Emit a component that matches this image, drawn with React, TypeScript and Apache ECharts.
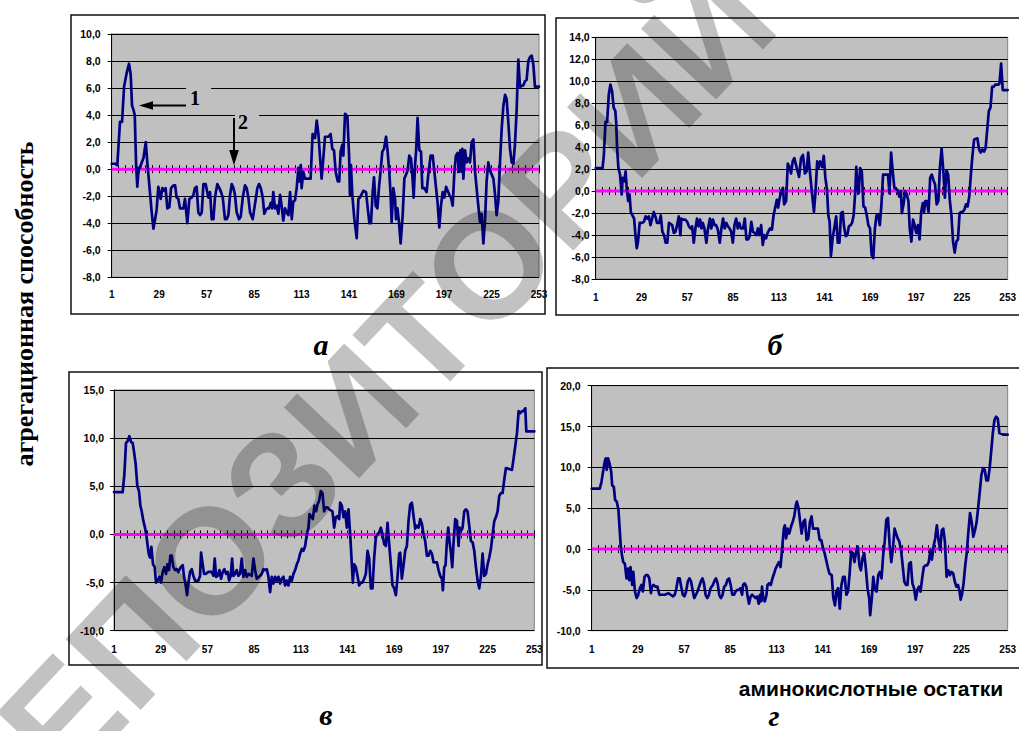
import React, { useEffect, useRef } from 'react';
import * as echarts from 'echarts';

// Residue numbers (category labels of the x axes)
const categories: string[] = Array.from({ length: 253 }, (_, k) => String(k + 1));

// Zero reference line (series "2")
const zeroLine: number[][] = [[1, 0], [253, 0]];

// Panel а: [residue, aggregation ability]
const seriesA: number[][] = [
  [1,0.4],[3,0.4],[4.3,0.3],[5.9,3.5],[7.1,3.5],[8.3,6.1],[9.8,7.1],[11.2,7.8],[12.2,7.0],[13,4.7],[13.8,4.4],[14.6,4.0],
  [15.4,0.3],[16.1,-1.3],[16.9,0.1],[17.7,0.1],[18.7,0.5],[19.7,0.8],[21.1,2.0],[22,0.5],[23.2,-1.2],[24.6,-3.2],[25.6,-4.4],
  [26.6,-3.7],[27.5,-3.0],[28.5,-1.3],[29.9,-2.2],[30.9,-1.4],[31.9,-1.6],[32.8,-1.4],[33.8,-2.9],[35,-2.8],[36,-1.4],
  [37.4,-1.2],[38.4,-1.2],[39.3,-2.1],[40.3,-2.2],[41.3,-2.9],[43.3,-2.9],[44.2,-2.2],[45.6,-4.0],[46.8,-2.2],[48.2,-2.1],
  [49.2,-1.9],[50.1,-1.4],[51.1,-1.3],[52.1,-3.2],[53.1,-3.4],[54.1,-3.2],[55.1,-1.1],[56.4,-1.1],[58,-2.1],[59,-1.7],
  [60,-3.7],[61,-3.7],[61.9,-2.1],[63.3,-1.1],[64.5,-1.4],[65.5,-1.7],[66.5,-2.1],[67.8,-3.7],[68.8,-3.7],[69.8,-3.4],
  [70.8,-1.9],[71.8,-1.1],[72.8,-1.4],[73.7,-1.9],[74.7,-3.2],[76.1,-3.7],[77.1,-3.5],[78.3,-2.1],[79.6,-1.2],[80.6,-1.4],
  [81.6,-2.1],[82.6,-3.2],[84.2,-3.7],[85.1,-2.9],[86.1,-2.1],[86.9,-1.4],[87.9,-1.1],[88.9,-1.4],[90.1,-2.1],[91,-3.3],
  [92,-3.0],[92.8,-2.9],[93.8,-2.9],[94.8,-2.5],[95.6,-2.9],[96.3,-1.7],[97.3,-2.9],[98.3,-2.7],[99.3,-3.3],[100.3,-1.9],
  [101.3,-2.8],[102.2,-3.8],[103.2,-2.9],[104.2,-3.2],[105.2,-3.4],[106.2,-1.7],[107.2,-3.7],[108.1,-2.4],[109.1,-2.3],
  [110.1,-1.4],[111.1,0.1],[111.7,-0.9],[112.5,0.3],[113,-1.4],[114,-0.2],[115,-0.7],[118.3,-0.7],[119.5,2.6],[120.9,2.3],
  [121.9,3.6],[122.9,2.6],[123.8,1.0],[124.8,-0.7],[125.8,0.8],[126.8,2.4],[128.8,2.4],[130.1,2.6],[131.1,1.5],[132.1,1.4],
  [133.1,-0.2],[134.3,-0.9],[135.2,-0.9],[136,1.3],[137,1.8],[137.6,1.0],[138.6,4.1],[140,3.9],[141,1.0],[141.5,-1.9],
  [142.1,0.3],[142.9,-1.9],[144.1,-3.7],[145.5,-5.1],[146.5,-2.2],[147.4,-2.1],[149.4,-1.6],[151,-1.7],[152,-2.9],[153,-4.0],
  [153.9,-4.0],[154.9,-1.7],[155.7,-0.6],[156.7,-2.7],[157.7,-2.9],[158.6,-1.4],[159.6,-0.1],[160.6,1.3],[161.6,1.5],
  [162.8,2.4],[163.6,1.5],[164.7,-0.2],[165.5,-1.9],[166.1,-3.9],[167.1,-1.4],[168.1,-2.2],[168.7,-3.7],[169.5,-2.9],
  [170.4,-3.9],[171.4,-5.5],[172.6,-3.4],[173.6,-0.7],[174.6,-0.4],[175.5,-0.1],[176.5,1.0],[177.5,0.8],[178.3,-0.4],
  [179.1,-2.1],[179.9,0.3],[180.5,1.3],[181.4,3.8],[182.4,1.4],[183.4,1.3],[184.2,-1.4],[185.4,-1.4],[186.7,-1.7],
  [187.7,-0.4],[189.1,1.0],[190.3,1.0],[191.3,-0.2],[192.3,-1.4],[193.2,-2.5],[194.2,-4.3],[195.2,-2.7],[196.2,-1.7],
  [197.2,-2.1],[198.2,-1.3],[200.1,-1.9],[201.1,-2.1],[202.1,-2.7],[203.1,-0.2],[204,1.0],[205,1.2],[205.8,-0.2],[206.6,1.4],
  [207.4,-0.2],[207.8,1.5],[208.4,-0.7],[209.4,1.4],[210.3,0.5],[211.3,0.8],[212.3,0.5],[213.3,2.0],[214.3,2.2],[215.3,-0.2],
  [216.2,-1.4],[217.2,-2.7],[218.2,-3.9],[219.2,-3.3],[220.2,-5.5],[221.2,-3.7],[222.1,-0.9],[223.1,0.5],[224.1,-0.1],
  [226.1,-0.7],[227.1,-1.9],[228,-3.4],[229,-2.4],[230,0.5],[231,3.0],[232,4.7],[233,5.5],[233.9,5.2],[234.9,3.5],
  [235.9,1.5],[236.9,0.5],[237.9,0.4],[238.8,1.8],[239.8,4.3],[240.8,8.1],[241.8,6.1],[243.8,6.2],[244.7,6.5],[245.7,6.6],
  [246.7,8.0],[247.7,8.3],[248.7,8.4],[249.7,7.7],[250.6,6.1],[253,6.1]
];

// Panel б
const seriesB: number[][] = [
  [1,2.1],[5.2,2.1],[6,3.3],[7,6.3],[8,6.3],[9,8.8],[10,9.7],[11,9.1],[12,7.6],[13,7.3],[13.5,6.3],[14.1,3.9],[14.9,2.1],
  [15.9,1.5],[16.9,-0.3],[17.5,1.2],[18.5,0.9],[19.3,1.8],[20.1,0.0],[20.9,-0.9],[21.7,-0.3],[22.5,-1.9],[23.5,-2.2],
  [24.5,-2.5],[25.3,-4.0],[26.1,-5.2],[26.9,-4.6],[27.9,-2.9],[29.1,-2.9],[30.5,-2.8],[31.5,-2.3],[32.5,-2.5],[33.5,-2.3],
  [34.5,-3.1],[35.5,-2.5],[36.5,-1.9],[37.5,-2.3],[38.5,-2.9],[39.8,-2.9],[40.8,-2.2],[41.8,-3.7],[42.8,-4.0],[43.8,-4.7],
  [44.8,-4.7],[45.8,-2.9],[47.8,-3.1],[48.8,-3.8],[49.8,-3.7],[50.8,-3.1],[51.8,-2.3],[52.8,-4.0],[53.4,-2.5],[54.4,-2.6],
  [55.8,-2.6],[57,-2.8],[58,-3.2],[59,-3.4],[60,-3.2],[61,-4.7],[62,-3.4],[63,-2.5],[64,-3.2],[64.9,-2.6],[65.7,-3.4],
  [66.5,-2.9],[67.5,-3.4],[68.7,-4.7],[69.7,-3.4],[70.9,-2.5],[71.7,-3.4],[72.7,-2.6],[73.7,-3.1],[74.7,-3.1],[75.7,-3.5],
  [76.9,-4.7],[77.9,-3.4],[78.9,-2.5],[79.9,-3.4],[80.9,-2.9],[81.9,-3.2],[82.9,-3.4],[83.9,-3.7],[84.9,-4.7],[85.9,-3.1],
  [86.9,-2.5],[87.9,-3.4],[88.8,-2.9],[89.8,-3.4],[91.2,-3.4],[92.2,-2.5],[93.2,-4.4],[94.2,-4.4],[95.2,-4.1],[96.2,-2.8],
  [97.2,-3.7],[98.2,-3.8],[99.2,-4.0],[100.2,-3.4],[101.2,-4.0],[102.2,-3.1],[103.2,-4.9],[104.2,-4.0],[105.2,-4.3],
  [106.2,-3.8],[107.6,-3.4],[108.8,-3.5],[109.8,-2.2],[110.8,-1.5],[111.8,-0.8],[112.6,-1.5],[113.6,-0.6],[114.6,0.0],
  [115.5,0.3],[116.3,-1.2],[117.5,-0.9],[118.5,2.5],[119.5,2.2],[120.5,1.6],[121.5,2.7],[122.5,3.0],[124,2.1],[125.4,1.3],
  [126.6,3.0],[127.8,3.3],[129,1.6],[130,1.8],[131,3.5],[132,1.8],[133.4,-0.3],[134.5,-1.9],[135.5,0.0],[136.5,2.7],
  [137.3,2.1],[138.3,2.7],[139.5,2.2],[140.5,3.2],[141.5,1.2],[142.5,0.1],[143.3,-2.2],[144.1,-2.8],[144.9,-5.9],[145.9,-4.3],
  [146.9,-3.4],[148.1,-2.3],[149.1,-4.7],[150.1,-4.7],[151.1,-2.0],[152.1,-1.9],[152.9,-3.2],[153.9,-4.1],[154.9,-4.0],
  [155.9,-3.2],[156.9,-3.1],[157.8,-2.9],[158.8,-2.2],[159.8,0.0],[160.4,2.2],[161.2,0.3],[161.8,-0.2],[162.8,2.1],
  [163.8,1.8],[164.8,-1.4],[165.8,-1.5],[166.8,-2.2],[167.8,-3.1],[168.8,-3.4],[169.8,-5.8],[170.8,-6.1],[171.8,-3.4],
  [172.8,-2.2],[173.8,-2.2],[174.8,-3.1],[175.8,-1.2],[176.8,1.5],[179.8,1.5],[180.7,-0.2],[181.7,3.5],[182.7,1.8],
  [183.7,0.3],[185.7,0.1],[186.7,-0.5],[187.7,0.0],[188.3,-2.0],[189.3,-1.2],[190.3,0.0],[191.3,-0.3],[192.3,-0.9],
  [193.1,-3.4],[194.1,-4.6],[195.1,-2.6],[196.1,-3.1],[197.1,-3.8],[198.1,-3.1],[199.1,-4.4],[200.1,-1.9],[201.1,-1.1],
  [201.9,-1.9],[202.6,-0.9],[203.6,-0.9],[204.6,-1.9],[205.6,1.2],[206.6,1.5],[207.6,1.0],[208.6,0.6],[209.6,-1.2],
  [210.6,-0.9],[211.6,2.2],[212.6,3.9],[213.6,1.9],[214.6,-0.6],[215.6,1.9],[216.6,1.5],[217.6,-0.8],[218.6,-2.2],
  [219.6,-4.6],[220.6,-5.6],[221.6,-4.6],[222.6,-4.4],[223.6,-2.0],[224.6,-1.9],[225.5,-1.9],[226.5,-1.7],[227.5,-1.2],
  [228.5,-1.4],[229.5,-0.5],[230.5,1.5],[231.5,3.3],[232.5,4.7],[234.5,4.8],[235.5,3.8],[236.5,3.5],[237.5,3.8],[238.5,3.6],
  [239.5,3.9],[240.5,5.6],[241.5,7.3],[242.5,7.6],[243.5,9.5],[244.5,9.5],[245.5,9.7],[247.5,9.7],[248,9.8],[249,11.6],
  [250,9.2],[253,9.2]
];

// Panel в
const seriesC: number[][] = [
  [1,4.4],[6.2,4.4],[7.2,6.2],[8.2,9.5],[9.2,9.7],[10.2,10.2],[11.2,9.6],[12.2,9.5],[13,8.6],[14,7.3],[15,5.0],[16,4.5],
  [16.8,3.0],[17.6,2.4],[18.6,1.4],[19.6,0.7],[20.4,-0.1],[21.2,-1.2],[21.8,-2.0],[22.6,-2.4],[23.4,-1.3],[24.4,-3.1],
  [25.4,-3.4],[26.2,-5.0],[27.2,-4.8],[28.2,-4.4],[29.2,-5.0],[30.2,-3.9],[31.2,-3.4],[32.2,-4.1],[33,-3.1],[34,-3.7],
  [34.8,-2.2],[35.6,-2.2],[36.6,-3.4],[37.6,-3.7],[38.6,-3.6],[39.6,-3.9],[41,-3.4],[42.2,-3.2],[43,-4.4],[43.8,-5.1],
  [44.8,-6.3],[45.8,-4.8],[46.6,-3.9],[47.6,-3.6],[48.6,-4.3],[49.6,-4.8],[51.6,-4.8],[52.6,-4.3],[53.2,-1.9],[54,-2.9],
  [55,-4.1],[56,-4.1],[57.6,-3.9],[59.6,-3.9],[60.6,-4.3],[61.4,-2.5],[62.2,-4.4],[63.2,-4.3],[64.2,-3.7],[65.2,-4.6],
  [66.2,-3.9],[67.2,-3.6],[68.2,-4.1],[69.2,-3.9],[70,-4.8],[71,-4.3],[71.8,-2.5],[72.6,-4.3],[73.6,-4.1],[74.6,-3.7],
  [75.6,-4.3],[76.6,-4.1],[77.6,-2.5],[78.6,-4.4],[79.6,-3.7],[80.6,-4.4],[81.6,-4.1],[83.6,-4.3],[84.6,-2.5],[85.6,-3.7],
  [86.6,-4.6],[88.6,-4.3],[89.6,-4.1],[90.6,-3.6],[91.6,-3.7],[92.6,-3.6],[93.6,-4.4],[94.6,-6.0],[95.6,-4.4],[96.6,-5.1],
  [97.6,-4.4],[98.6,-4.8],[99.6,-4.4],[100.6,-5.1],[101.6,-4.6],[102.6,-4.4],[103.6,-5.3],[104.6,-4.8],[105.6,-5.3],
  [106.6,-4.4],[107.6,-4.8],[108.6,-4.1],[109.6,-3.7],[110.6,-3.1],[111.6,-2.7],[112.6,-2.0],[113.6,-1.5],[114.6,-1.7],
  [115.6,-1.2],[116.6,0.0],[117.6,0.7],[118.2,2.1],[119.2,1.9],[120.2,1.6],[121.2,3.0],[122.2,2.4],[123,3.1],[124,3.5],
  [125,4.5],[126,4.3],[127,2.4],[128,2.8],[129,2.8],[130,2.6],[132,2.4],[133,0.7],[134,1.8],[135,1.9],[136,1.6],[136.6,3.3],
  [137.6,3.0],[138.6,1.8],[139.6,2.4],[140.6,0.7],[141.6,2.6],[142.6,0.0],[143.6,-3.1],[144.2,-5.0],[145,-3.1],[146,-3.4],
  [147,-4.3],[148,-5.3],[149,-5.0],[150,-5.0],[151,-4.6],[152,-4.1],[153,-1.7],[154,-2.5],[155,-5.6],[156,-5.6],[157,-2.4],
  [158,-0.3],[159,0.0],[160,0.2],[161,0.7],[162,0.0],[163,-1.0],[164,-1.2],[165,1.2],[166,-1.0],[167,-3.1],[168,-5.3],
  [169,-5.6],[170,-6.3],[171,-4.4],[172,-2.0],[172.6,-1.9],[173.6,-4.6],[174.6,-3.2],[175.6,-1.7],[176.6,-1.2],[177.6,1.4],
  [178.6,3.1],[179.6,3.3],[180.6,1.9],[181.6,0.6],[182.6,0.9],[183.6,0.7],[184.6,1.6],[185.6,1.1],[186.6,0.0],[187.6,-0.7],
  [188.6,-2.2],[189.6,-2.2],[190.6,-1.7],[191.6,-2.0],[192.6,-2.9],[194.6,-2.9],[195.6,-3.7],[196.6,-4.3],[197.6,-4.6],
  [198.2,-5.8],[199,-3.4],[199.8,-3.2],[200.6,-0.7],[201.4,0.7],[202.2,-0.8],[203,-1.9],[203.8,-3.4],[204.6,-0.8],
  [205.6,1.6],[206.6,1.4],[207.6,-1.2],[208.2,0.7],[209.2,0.4],[210,0.7],[211,2.4],[212,2.6],[213,2.4],[214,0.9],
  [215,-0.7],[216,-0.8],[217,-1.7],[218,-3.4],[219,-4.8],[220,-5.6],[221,-4.4],[222,-2.0],[223,-4.3],[224,-4.1],[225,-3.1],
  [226,-2.4],[227,-1.5],[228,0.0],[229,1.4],[230,1.8],[231,2.4],[232,4.0],[233,4.3],[234,4.3],[235,5.7],[236,6.9],
  [239.6,6.7],[240.6,7.9],[241.6,9.2],[242.6,10.5],[243.6,12.8],[244.6,12.6],[245.6,12.8],[246.6,12.8],[247.6,13.1],
  [248.2,10.7],[253,10.7]
];

// Panel г
const seriesD: number[][] = [
  [1,7.4],[5.9,7.4],[6.9,8.2],[7.9,9.5],[8.9,10.7],[9.5,11.1],[10.1,9.7],[10.9,11.1],[11.8,10.5],[12.8,9.5],[13.4,7.8],
  [14.4,7.6],[15.2,6.0],[16.2,5.8],[17.2,4.8],[17.8,2.9],[18.6,0.3],[19.3,-0.7],[20.1,-1.6],[21.1,-1.8],[22.1,-3.6],
  [22.9,-2.4],[23.7,-3.8],[24.5,-2.2],[25.5,-4.4],[26.2,-2.8],[27.2,-5.2],[28.2,-6.0],[29.2,-5.6],[30.2,-4.8],[31.2,-4.4],
  [32,-5.2],[33,-3.4],[33.9,-3.2],[34.9,-3.2],[35.9,-3.6],[36.9,-5.4],[37.5,-4.6],[38.5,-4.4],[39.5,-4.6],[40.8,-4.6],
  [42,-5.6],[45.4,-5.6],[47.4,-5.4],[48.9,-5.6],[50.3,-5.8],[51.3,-5.6],[52.3,-4.8],[53.3,-3.6],[54.3,-3.6],[55.2,-4.6],
  [56.2,-5.6],[57.2,-5.8],[58.2,-5.2],[59.2,-4.0],[60.2,-3.6],[61.2,-4.0],[62.1,-5.0],[63.1,-6.0],[64.1,-5.6],[65.1,-5.2],
  [66.1,-4.6],[67.1,-4.0],[68.1,-3.6],[69,-4.2],[70,-5.6],[71,-6.0],[72,-5.6],[73,-4.8],[74.4,-4.4],[75.6,-3.8],[76.3,-3.6],
  [77.3,-4.2],[78.3,-5.6],[79.3,-6.0],[80.3,-5.6],[81.3,-4.6],[82.3,-4.4],[83.2,-3.8],[84.2,-3.6],[85.2,-4.4],[86.2,-5.6],
  [87.2,-5.6],[88.2,-5.2],[89.2,-5.0],[90.2,-5.0],[91.1,-4.8],[92.1,-5.6],[92.7,-4.4],[93.7,-4.2],[94.7,-4.6],[95.3,-5.6],
  [96.3,-6.7],[97.3,-5.8],[98.2,-5.6],[99.2,-5.8],[100.2,-6.0],[101.2,-5.8],[102.2,-6.7],[103,-5.6],[103.6,-6.4],[104.2,-4.6],
  [105,-6.2],[105.9,-6.4],[106.9,-5.6],[107.5,-4.4],[108.5,-4.2],[109.5,-4.4],[110.5,-3.6],[111.5,-3.0],[112.4,-2.4],
  [113.4,-2.0],[114.4,-1.6],[115.4,-2.2],[116.4,0.1],[117.4,2.5],[118,2.9],[118.8,1.3],[119.7,2.5],[120.7,1.9],[121.7,2.7],
  [122.7,3.3],[123.7,4.0],[124.7,5.4],[125.3,5.8],[126.3,5.0],[127.3,3.3],[128.2,1.9],[129.2,3.3],[130.2,3.6],[131.2,1.1],
  [132.2,1.3],[133.2,3.3],[134.2,4.0],[135.1,2.5],[138.1,2.5],[139.1,1.1],[140.1,1.1],[141.1,0.1],[142.1,-0.5],[143,-1.3],
  [144,-2.2],[145,-3.0],[146.4,-3.2],[147.4,-6.0],[148.4,-6.9],[149.3,-5.2],[150.3,-4.8],[151.3,-7.3],[152.3,-4.4],
  [153.3,-3.4],[154.3,-3.4],[155.3,-5.6],[156.3,-5.2],[157.2,-3.2],[158.2,-0.3],[159.2,-0.5],[160.2,-1.6],[161.2,-0.3],
  [162.2,0.3],[163.2,-2.0],[164.1,-2.6],[165.1,-1.1],[166.1,-0.5],[167.1,-2.4],[168.1,-4.8],[169.1,-6.0],[169.7,-8.1],
  [170.7,-6.0],[171.6,-3.4],[172.6,-5.0],[173.6,-5.2],[174.6,-3.2],[175.6,-2.8],[176.6,-3.6],[177.6,-0.7],[178.5,0.9],
  [179.5,3.6],[180.5,3.8],[181.5,0.5],[182.5,-1.6],[183.5,0.1],[184.5,2.5],[185.4,1.9],[186.4,1.3],[187.4,0.9],[188.4,-0.1],
  [189.4,-2.0],[190.4,-4.0],[191.4,-4.4],[192.3,-4.4],[193.3,-1.8],[194.3,-1.6],[195.3,-4.2],[196.3,-4.8],[197.3,-6.2],
  [198.3,-5.0],[199.3,-4.6],[200.2,-5.2],[201.2,-3.6],[202.2,-2.2],[203.2,-2.0],[204.2,-2.0],[205.2,-1.6],[206.2,-0.1],
  [207.1,-1.3],[208.1,0.3],[209.1,1.3],[210.1,2.9],[211.1,1.1],[212.1,-0.1],[213.1,2.3],[214,2.5],[215,0.9],[216,-3.4],
  [217,-2.6],[218,-3.2],[219,-2.8],[220,-3.0],[221,-4.0],[221.9,-4.6],[222.9,-4.4],[223.9,-5.2],[224.5,-6.2],[225.3,-5.6],
  [226.3,-4.2],[227.3,-2.0],[228.2,-0.5],[229.2,2.1],[230.2,4.4],[231.2,3.3],[232.2,1.5],[233.2,2.3],[234.2,3.3],[235.1,5.0],
  [236.1,7.0],[237.1,9.1],[238.1,9.9],[239.1,9.7],[240.1,8.4],[241.1,8.4],[242.1,9.9],[243,11.9],[244,14.2],[245,15.8],
  [246,16.2],[247,16.0],[248,14.2],[250.5,14.0],[253,14.0]
];

const SANS = '"Liberation Sans", Arial, sans-serif';
const SERIF = '"Liberation Serif", "Times New Roman", serif';

const panels = [
  { letter: 'а', data: seriesA, yMin: -8, yMax: 10, yStep: 2, grid: { left: 111.7, top: 34, width: 427.3, height: 243.3 }, box: [71, 15, 474, 299], letterPos: [321, 344], yMargin: 11, xMargin: 12.5 },
  { letter: 'б', data: seriesB, yMin: -8, yMax: 14, yStep: 2, grid: { left: 595.7, top: 37.3, width: 421.9, height: 241.7 }, box: [556, 18, 480, 297], letterPos: [775, 344], yMargin: 6, xMargin: 13.5 },
  { letter: 'в', data: seriesC, yMin: -10, yMax: 15, yStep: 5, grid: { left: 114, top: 390, width: 420.3, height: 240.7 }, box: [69, 372, 473, 293], letterPos: [326, 714], yMargin: 10, xMargin: 14 },
  { letter: 'г', data: seriesD, yMin: -10, yMax: 20, yStep: 5, grid: { left: 591.7, top: 385.7, width: 425.9, height: 245 }, box: [547, 368, 490, 300], letterPos: [774, 715], yMargin: 11, xMargin: 14 },
];

function buildOption() {
  const grid: any[] = [];
  const xAxis: any[] = [];
  const yAxis: any[] = [];
  const series: any[] = [];
  const graphic: any[] = [];

  panels.forEach((p, gi) => {
    grid.push({ ...p.grid, show: true, backgroundColor: '#C0C0C0', borderColor: '#808080', borderWidth: 1, containLabel: false });
    xAxis.push({
      type: 'category', gridIndex: gi, data: categories, boundaryGap: false, position: 'bottom',
      axisLine: { show: false, onZero: false }, axisTick: { show: false }, splitLine: { show: false },
      axisLabel: { interval: 27, color: '#000', fontWeight: 'bold', fontSize: 10, fontFamily: SANS, margin: p.xMargin },
    });
    xAxis.push({
      type: 'category', gridIndex: gi, data: categories, boundaryGap: false, position: 'bottom',
      axisLine: { show: true, onZero: true, onZeroAxisIndex: gi, lineStyle: { color: '#000', width: 1 } },
      axisTick: { show: true, interval: 3, length: 4, inside: false, lineStyle: { color: '#000', width: 1 } },
      axisLabel: { show: false }, splitLine: { show: false },
    });
    xAxis.push({
      type: 'category', gridIndex: gi, data: categories, boundaryGap: false, position: 'bottom',
      axisLine: { show: true, onZero: true, onZeroAxisIndex: gi, lineStyle: { color: '#000', width: 1 } },
      axisTick: { show: true, interval: 3, length: 4, inside: true, lineStyle: { color: '#000', width: 1 } },
      axisLabel: { show: false }, splitLine: { show: false },
    });
    xAxis.push({ type: 'value', gridIndex: gi, min: 1, max: 253, show: false });

    yAxis.push({
      type: 'value', gridIndex: gi, min: p.yMin, max: p.yMax, interval: p.yStep,
      axisLine: { show: true, onZero: false, lineStyle: { color: '#000', width: 1 } },
      axisTick: { show: true, length: 4, lineStyle: { color: '#000', width: 1 } },
      axisLabel: {
        color: '#000', fontWeight: 'bold', fontSize: 10.5, fontFamily: SANS, margin: p.yMargin,
        formatter: (v: number) => v.toFixed(1).replace('.', ','),
      },
      splitLine: { show: true, lineStyle: { color: '#000', width: 1 } },
    });

    series.push({
      type: 'line', name: '2', xAxisIndex: gi * 4 + 3, yAxisIndex: gi, data: zeroLine,
      symbol: 'none', silent: true, z: 2, lineStyle: { color: '#FF00FF', width: 3 },
    });
    series.push({
      type: 'line', name: '1', xAxisIndex: gi * 4 + 3, yAxisIndex: gi, data: p.data,
      symbol: 'none', silent: true, z: 3, lineStyle: { color: '#000080', width: 2.7, join: 'round', cap: 'round' },
    });

    graphic.push({
      type: 'rect', z: 1, silent: true,
      shape: { x: p.box[0], y: p.box[1], width: p.box[2], height: p.box[3] },
      style: { fill: 'none', stroke: '#111', lineWidth: 1.5 },
    });
    graphic.push({
      type: 'text', z: 20, silent: true, x: p.letterPos[0], y: p.letterPos[1],
      style: { text: p.letter, fontSize: 30, lineHeight: 22, fontWeight: 'bold', fontStyle: 'italic', fontFamily: SERIF, fill: '#000', align: 'center', verticalAlign: 'middle' },
    });
  });

  graphic.push(
    { type: 'rect', z: 15, silent: true, shape: { x: 186, y: 86, width: 25, height: 4 }, style: { fill: '#C0C0C0' } },
    { type: 'rect', z: 15, silent: true, shape: { x: 235, y: 113, width: 24, height: 4 }, style: { fill: '#C0C0C0' } },
    { type: 'line', z: 20, silent: true, shape: { x1: 186, y1: 105.5, x2: 150, y2: 105.5 }, style: { stroke: '#000', lineWidth: 2 } },
    { type: 'polygon', z: 20, silent: true, shape: { points: [[139, 105.5], [153, 101.2], [153, 109.8]] }, style: { fill: '#000' } },
    { type: 'line', z: 20, silent: true, shape: { x1: 234, y1: 118, x2: 234, y2: 152 }, style: { stroke: '#000', lineWidth: 2 } },
    { type: 'polygon', z: 20, silent: true, shape: { points: [[234, 165.5], [229.2, 150], [238.8, 150]] }, style: { fill: '#000' } },
    { type: 'text', z: 20, silent: true, x: 195, y: 98, style: { text: '1', fontSize: 20, fontWeight: 'bold', fontFamily: SERIF, fill: '#000', align: 'center', verticalAlign: 'middle' } },
    { type: 'text', z: 20, silent: true, x: 243, y: 122, style: { text: '2', fontSize: 20, fontWeight: 'bold', fontFamily: SERIF, fill: '#000', align: 'center', verticalAlign: 'middle' } },
  );

  graphic.push(
    { type: 'text', z: 20, silent: true, x: 24, y: 304, rotation: Math.PI / 2,
      style: { text: 'агрегационная способность', fontSize: 26, fontWeight: 'bold', fontFamily: SERIF, fill: '#000', align: 'center', verticalAlign: 'middle' } },
    { type: 'text', z: 20, silent: true, x: 871, y: 688,
      style: { text: 'аминокислотные остатки', fontSize: 21, lineHeight: 20, fontWeight: 'bold', fontFamily: SANS, fill: '#000', align: 'center', verticalAlign: 'middle' } },
  );

  graphic.push({
    type: 'text', z: 50, silent: true, x: 352, y: 410, rotation: 0.815,
    style: { text: 'РЕПОЗИТОРИЙ', fontSize: 150, fontWeight: 'bold', fontFamily: SANS, fill: 'rgba(0,0,0,0.24)', align: 'center', verticalAlign: 'middle' },
  });

  return { animation: false, backgroundColor: '#ffffff', grid, xAxis, yAxis, series, graphic };
}

export default function App() {
  const ref = useRef<HTMLDivElement>(null);
  useEffect(() => {
    if (!ref.current) return;
    const chart = echarts.init(ref.current, null, { renderer: 'svg' });
    chart.setOption(buildOption() as any);
    return () => chart.dispose();
  }, []);
  return <div ref={ref} style={{ position: 'fixed', left: 0, top: 0, width: 1019, height: 731, background: '#fff' }} />;
}
